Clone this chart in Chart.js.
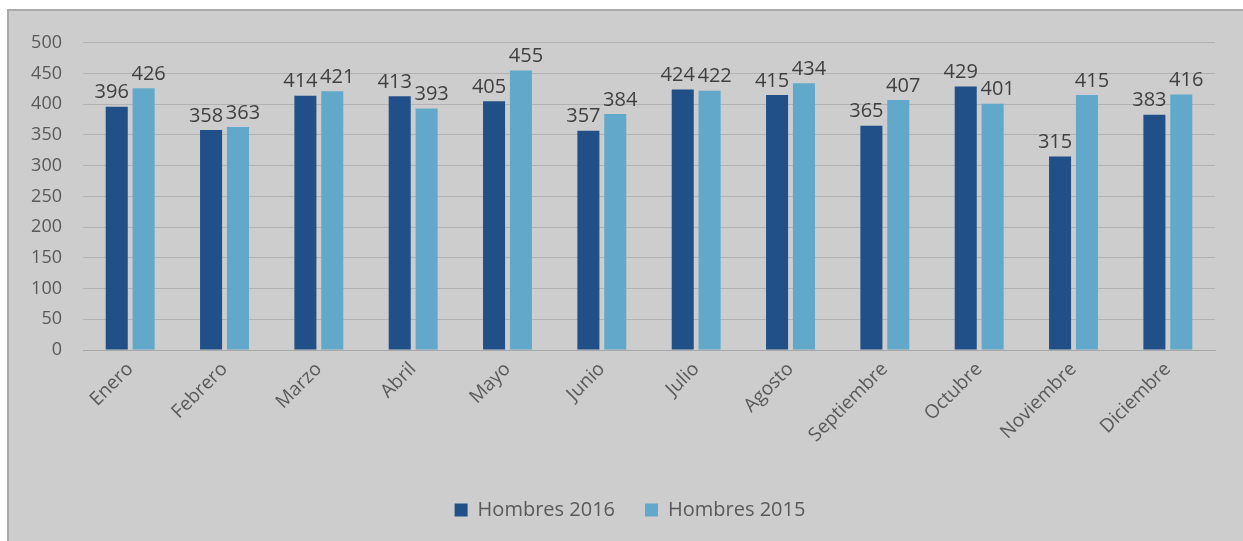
<!DOCTYPE html>
<html>
<head>
<meta charset="utf-8">
<script src="https://cdn.jsdelivr.net/npm/chart.js@4.4.1/dist/chart.umd.min.js"></script>
<style>
    html, body { margin: 0; padding: 0; background: #fff; }
    .frame {
        position: absolute; left: 7px; top: 9px; width: 1236px; height: 532px;
        background: #cdcdcd; border-left: 2px solid #a9a9a9; border-top: 2px solid #a9a9a9;
        box-sizing: border-box;
    }
    .wrap { position: absolute; left: 0; top: 0; width: 1234px; height: 530px; }
</style>
</head>
<body>
<div class="frame"><div class="wrap"><canvas id="chart"></canvas></div></div>
<script>
// chart data
const months = ['Enero', 'Febrero', 'Marzo', 'Abril', 'Mayo', 'Junio', 'Julio', 'Agosto', 'Septiembre', 'Octubre', 'Noviembre', 'Diciembre'];
const hombres2016 = [396, 358, 414, 413, 405, 357, 424, 415, 365, 429, 315, 383];
const hombres2015 = [426, 363, 421, 393, 455, 384, 422, 434, 407, 401, 415, 416];
const seriesNames = ['Hombres 2016', 'Hombres 2015'];

const FONT = "'Open Sans', sans-serif";

// value labels above each bar
const barLabels = {
    id: 'barLabels',
    afterDatasetsDraw(chart) {
        const ctx = chart.ctx;
        ctx.save();
        ctx.font = '20px ' + FONT;
        ctx.fillStyle = '#404040';
        ctx.textAlign = 'center';
        ctx.textBaseline = 'bottom';
        chart.data.datasets.forEach((ds, i) => {
            const meta = chart.getDatasetMeta(i);
            meta.data.forEach((bar, j) => {
                const shift = i === 0 ? -5 : 5;
                ctx.fillText(ds.data[j], bar.x + shift, bar.y - 4);
            });
        });
        ctx.restore();
    }
};

new Chart(document.getElementById('chart'), {
    type: 'bar',
    data: {
        labels: months,
        datasets: [{
            label: seriesNames[0],
            data: hombres2016,
            backgroundColor: '#215089',
            categoryPercentage: 0.57,
            barPercentage: 0.82
        }, {
            label: seriesNames[1],
            data: hombres2015,
            backgroundColor: '#62a8ca',
            categoryPercentage: 0.57,
            barPercentage: 0.82
        }]
    },
    options: {
        responsive: true,
        maintainAspectRatio: false,
        animation: false,
        layout: { padding: { top: 29, right: 0, bottom: 11, left: 8 } },
        scales: {
            x: {
                grid: { display: false, drawTicks: false },
                border: { color: '#a8a8a8', width: 1 },
                ticks: {
                    color: '#595959',
                    font: { size: 19, family: FONT },
                    minRotation: 45,
                    maxRotation: 45,
                    padding: 8
                },
                afterFit(scale) { scale.height = 120; }
            },
            y: {
                min: 0,
                max: 500,
                border: { display: false },
                grid: { color: '#b2b2b2', drawTicks: false },
                ticks: {
                    stepSize: 50,
                    color: '#595959',
                    font: { size: 18, family: FONT },
                    padding: 21
                },
                afterFit(scale) { scale.width = 66; }
            },
            // empty right-hand spacer so the plot stops short of the frame
            spacer: {
                type: 'linear',
                position: 'right',
                border: { display: false },
                grid: { display: false, drawTicks: false },
                ticks: { display: false },
                afterFit(scale) { scale.width = 28; }
            }
        },
        plugins: {
            legend: {
                position: 'bottom',
                labels: {
                    color: '#595959',
                    font: { size: 20, family: FONT },
                    boxWidth: 13,
                    boxHeight: 13,
                    padding: 30
                }
            },
            tooltip: { enabled: false }
        }
    },
    plugins: [barLabels]
});
</script>
</body>
</html>
